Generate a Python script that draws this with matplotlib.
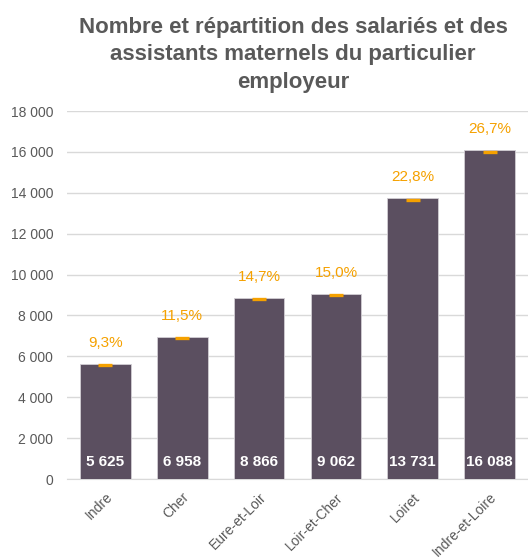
"""
Salariés et assistants maternels du particulier employeur, par département.
"""

import matplotlib
matplotlib.use("Agg")
import matplotlib.pyplot as plt

# Data
DEPARTEMENTS = ["Indre", "Cher", "Eure-et-Loir", "Loir-et-Cher", "Loiret", "Indre-et-Loire"]
EFFECTIFS = [5625, 6958, 8866, 9062, 13731, 16088]
PARTS = ["9,3%", "11,5%", "14,7%", "15,0%", "22,8%", "26,7%"]
Y_TICKS = [0, 2000, 4000, 6000, 8000, 10000, 12000, 14000, 16000, 18000]

TITLE = ("Nombre et répartition des salariés et des\n"
         "assistants maternels du particulier\n"
         "employeur")

BAR_COLOR = "#5B4F60"
ORANGE = "#F5A100"
GRAY_TEXT = "#595959"
GRID_COLOR = "#D9D9D9"


def fmt_thousands(v):
    """Format with a space as thousands separator (French style)."""
    return f"{v:,}".replace(",", " ")


def main():
    plt.rcParams["font.family"] = ["Liberation Sans", "DejaVu Sans"]

    fig = plt.figure(figsize=(5.28, 5.57), dpi=100)
    ax = fig.add_axes([0.127, 0.140, 0.873, 0.6607])

    x = list(range(len(DEPARTEMENTS)))
    ax.bar(x, EFFECTIFS, width=0.66, color=BAR_COLOR,
           edgecolor="#D2CED4", linewidth=0.6, zorder=3)

    # Orange dash at the top of each bar (share series marker)
    ax.plot(x, [v - 70 for v in EFFECTIFS], linestyle="none", marker="_",
            markersize=10.5, markeredgewidth=2.4, color=ORANGE, zorder=4)

    for xi, v, p in zip(x, EFFECTIFS, PARTS):
        ax.annotate(p, (xi, v), xytext=(0, 15), textcoords="offset points",
                    ha="center", va="center", color=ORANGE, fontsize=11)
        ax.annotate(fmt_thousands(v), (xi, 0), xytext=(0, 7),
                    textcoords="offset points", ha="center", va="bottom",
                    color="white", fontsize=11, fontweight="bold", zorder=5)

    ax.set_xlim(-0.5, len(DEPARTEMENTS) - 0.5)
    ax.set_ylim(0, 18000)
    ax.set_yticks(Y_TICKS)
    ax.set_yticklabels([fmt_thousands(t) for t in Y_TICKS])
    ax.set_xticks(x)
    ax.set_xticklabels(DEPARTEMENTS, rotation=45, ha="right",
                       rotation_mode="anchor")

    ax.tick_params(axis="both", length=0, colors=GRAY_TEXT, labelsize=10)
    ax.tick_params(axis="y", pad=10)
    ax.tick_params(axis="x", pad=8)

    ax.grid(axis="y", color=GRID_COLOR, linewidth=1, zorder=0)
    for side in ["top", "right", "left"]:
        ax.spines[side].set_visible(False)
    ax.spines["bottom"].set_color(GRID_COLOR)
    ax.set_axisbelow(True)

    fig.text(0.555, 0.970, TITLE, ha="center", va="top", fontsize=16,
             fontweight="bold", color=GRAY_TEXT, linespacing=1.4)

    fig.savefig("out.png", dpi=100)
    plt.close(fig)


if __name__ == "__main__":
    main()
